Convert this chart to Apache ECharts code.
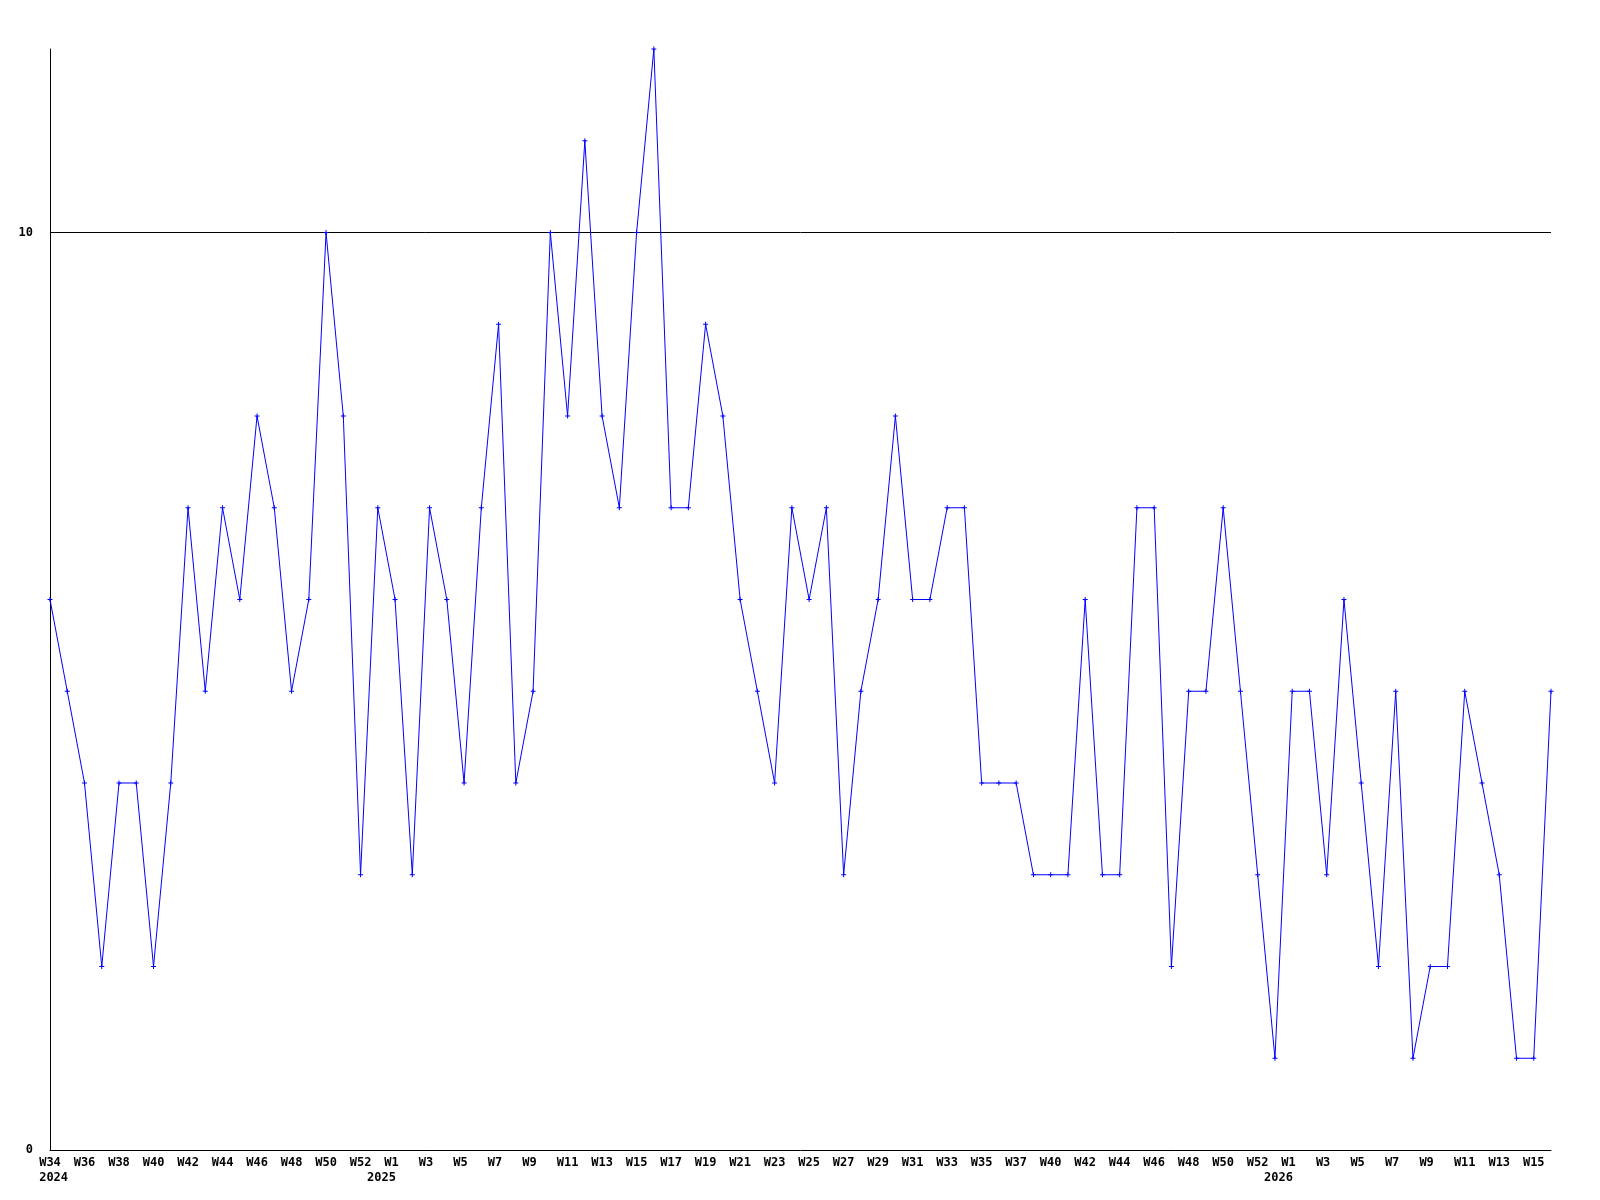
<!DOCTYPE html>
<html>
<head>
<meta charset="utf-8">
<script src="https://cdn.jsdelivr.net/npm/echarts@6/dist/echarts.min.js"></script>
<style>
  html, body { margin: 0; padding: 0; background: #fff; }
  #chart { width: 1600px; height: 1200px; }
</style>
</head>
<body>
<div id="chart"></div>
<script>
// week labels printed under every second point
var tickLabels = ['W34', 'W36', 'W38', 'W40', 'W42', 'W44', 'W46', 'W48', 'W50', 'W52',
  'W1', 'W3', 'W5', 'W7', 'W9', 'W11', 'W13', 'W15', 'W17', 'W19', 'W21', 'W23',
  'W25', 'W27', 'W29', 'W31', 'W33', 'W35', 'W37', 'W40', 'W42', 'W44', 'W46', 'W48',
  'W50', 'W52', 'W1', 'W3', 'W5', 'W7', 'W9', 'W11', 'W13', 'W15'];

// year labels and the point index they sit under
var years = ['2024', '2025', '2026'];
var yearIndex = [0, 19, 71];

// one category per point
var weeks = [];
for (var i = 0; i < 88; i++) weeks.push('p' + i);

var values = [6, 5, 4, 2, 4, 4, 2, 4, 7, 5, 7, 6, 8, 7, 5, 6, 10, 8, 3, 7,
  6, 3, 7, 6, 4, 7, 9, 4, 5, 10, 8, 11, 8, 7, 10, 12, 7, 7, 9, 8,
  6, 5, 4, 7, 6, 7, 3, 5, 6, 8, 6, 6, 7, 7, 4, 4, 4, 3, 3, 3,
  6, 3, 3, 7, 7, 2, 5, 5, 7, 5, 3, 1, 5, 5, 3, 6, 4, 2, 5, 1,
  2, 2, 5, 4, 3, 1, 1, 5];

var yTicks = [0, 10];

var labelFont = {
  fontFamily: 'DejaVu Sans Mono',
  fontWeight: 'bold',
  fontSize: 12,
  color: '#000'
};

// labels are drawn from 1.5 chars left of the point, so pad short ones
function pad3(s) {
  while (s.length < 3) s += ' ';
  return s;
}

var chart = echarts.init(document.getElementById('chart'));
chart.setOption({
  animation: false,
  grid: { left: 50, right: 49, top: 49, bottom: 50, containLabel: false },
  xAxis: [{
    type: 'category',
    data: weeks,
    boundaryGap: false,
    axisLine: { lineStyle: { color: '#000', width: 1 } },
    axisTick: { show: false },
    axisLabel: Object.assign({
      interval: 1,
      margin: 7,
      formatter: function (val, idx) { return pad3(tickLabels[idx / 2] || ''); }
    }, labelFont),
    splitLine: { show: false }
  }, {
    type: 'category',
    data: weeks,
    position: 'bottom',
    offset: 15,
    boundaryGap: false,
    axisLine: { show: false },
    axisTick: { show: false },
    axisLabel: Object.assign({
      interval: function (idx) { return yearIndex.indexOf(idx) >= 0; },
      margin: 7,
      formatter: function (val, idx) {
        var k = yearIndex.indexOf(idx);
        return k >= 0 ? ' ' + years[k] : '';
      }
    }, labelFont),
    splitLine: { show: false }
  }],
  yAxis: {
    type: 'value',
    min: 0,
    max: 12,
    axisLine: { show: true, lineStyle: { color: '#000', width: 1 } },
    axisTick: { show: false },
    axisLabel: Object.assign({ customValues: yTicks, margin: 17 }, labelFont),
    splitLine: { show: false }
  },
  series: [{
    type: 'line',
    data: values,
    xAxisIndex: 0,
    symbol: 'path://M2,0h1v2h2v1h-2v2h-1v-2h-2v-1h2z',
    symbolSize: 5,
    showSymbol: true,
    lineStyle: { color: '#0000ff', width: 1 },
    itemStyle: { color: '#0000ff' },
    z: 3,
    markLine: {
      silent: true,
      symbol: 'none',
      label: { show: false },
      lineStyle: { color: '#000', width: 1, type: 'solid' },
      data: [{ yAxis: 10 }],
      z: 1
    }
  }]
});
</script>
</body>
</html>
